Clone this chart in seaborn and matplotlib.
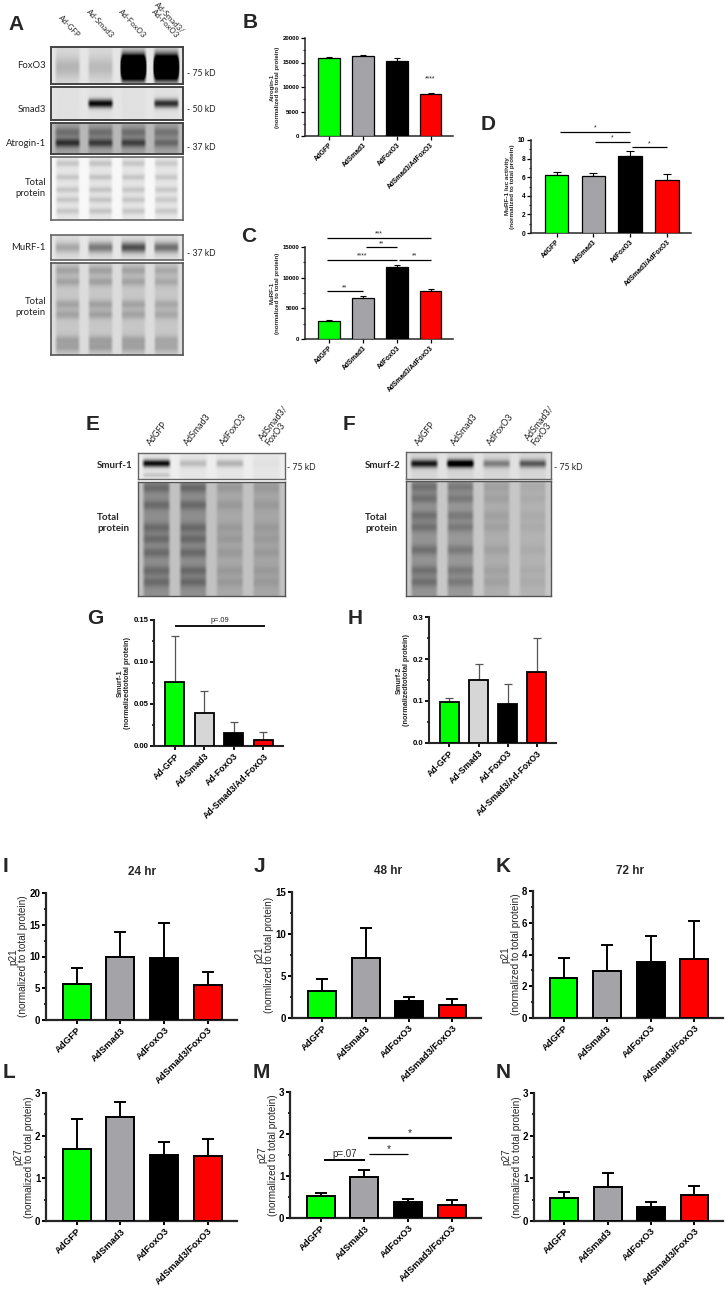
import numpy as np
import pandas as pd
import matplotlib
matplotlib.use("Agg")
import matplotlib.pyplot as plt
import seaborn as sns
from matplotlib.ticker import AutoMinorLocator

sns.set_theme(style="ticks")
plt.rcParams['font.family'] = ['Liberation Sans', 'DejaVu Sans']
BLOT_FONT = ['Lato', 'DejaVu Sans']

W, H = 726, 1289
fig = plt.figure(figsize=(W / 100, H / 100), dpi=100)

# ---------------- data ----------------
groups = ["AdGFP", "AdSmad3", "AdFoxO3", "AdSmad3/AdFoxO3"]
groups_dash = ["Ad-GFP", "Ad-Smad3", "Ad-FoxO3", "Ad-Smad3/Ad-FoxO3"]
groups_short = ["AdGFP", "AdSmad3", "AdFoxO3", "AdSmad3/FoxO3"]

atrogin_mean = [16000, 16400, 15300, 8600]
atrogin_err = [200, 200, 600, 250]
murf_mean = [3000, 6700, 11800, 7900]
murf_err = [150, 300, 300, 200]
murf_luc_mean = [6.2, 6.1, 8.25, 5.75]
murf_luc_err = [0.4, 0.4, 0.55, 0.55]
smurf1_mean = [0.076, 0.039, 0.015, 0.0075]
smurf1_err = [0.055, 0.027, 0.014, 0.0095]
smurf2_mean = [0.097, 0.150, 0.092, 0.169]
smurf2_err = [0.009, 0.037, 0.048, 0.081]
p21_24_mean = [5.6, 9.9, 9.7, 5.5]
p21_24_err = [2.6, 3.9, 5.5, 2.1]
p21_48_mean = [3.2, 7.1, 2.0, 1.6]
p21_48_err = [1.5, 3.6, 0.5, 0.7]
p21_72_mean = [2.5, 2.95, 3.5, 3.7]
p21_72_err = [1.3, 1.65, 1.65, 2.4]
p27_24_mean = [1.68, 2.43, 1.54, 1.52]
p27_24_err = [0.70, 0.36, 0.31, 0.41]
p27_48_mean = [0.52, 0.97, 0.38, 0.32]
p27_48_err = [0.08, 0.18, 0.07, 0.10]
p27_72_mean = [0.54, 0.79, 0.33, 0.61]
p27_72_err = [0.13, 0.33, 0.11, 0.20]

# western blot band intensities per lane (0 = none, >1 saturated)
foxo3_lanes = [0.14, 0.12, 3.0, 2.8]
smad3_lanes = [0.0, 0.85, 0.0, 0.7]
atrogin_upper = [0.2, 0.2, 0.2, 0.18]
atrogin_lower = [0.45, 0.4, 0.38, 0.22]
total_a_lanes = [0.12, 0.13, 0.12, 0.11]
murf1_lanes = [0.2, 0.38, 0.55, 0.42]
total_b_lanes = [0.14, 0.15, 0.14, 0.12]
smurf1_lanes = [0.85, 0.16, 0.2, 0.02]
smurf2_lanes = [0.75, 0.95, 0.35, 0.5]
total_e_shade = [0.12, 0.12, 0.02, 0.03]
total_e_lanes = [0.14, 0.15, 0.06, 0.05]
total_f_shade = [0.12, 0.1, 0.02, 0.0]
total_f_lanes = [0.14, 0.12, 0.05, 0.03]

bar_colors = ["#00ff00", "#a3a3a8", "#000000", "#ff0000"]
bar_colors_light = ["#00ff00", "#d6d6d6", "#000000", "#ff0000"]


def px_axes(l, t, r, b):
    return fig.add_axes([l / W, 1 - b / H, (r - l) / W, (b - t) / H])


def letter(x, y, s):
    fig.text(x / W, 1 - y / H, s, fontsize=15, fontweight="bold",
             ha="center", va="center")


def bars(box, cats, means, errs, colors, ymax, yticks, ylabel, tick_fs,
         label_fs, xlab_fs, lw=1.0, ecol="black", elw=1.0, cap=3,
         label_bold=True, fmt=None, pad=2):
    ax = px_axes(*box)
    df = pd.DataFrame({"group": cats, "value": means})
    sns.barplot(data=df, x="group", y="value", hue="group", palette=colors,
                legend=False, width=0.64, edgecolor="black", linewidth=lw,
                saturation=1, errorbar=None, ax=ax, zorder=3)
    ax.errorbar(range(len(cats)), means, yerr=[np.zeros(len(cats)), errs],
                fmt="none", ecolor=ecol, elinewidth=elw, capsize=cap,
                capthick=elw, zorder=2)
    ax.set_xlim(-0.7, 3.66)
    ax.set_ylim(0, ymax)
    ax.set_yticks(yticks)
    if fmt:
        ax.set_yticklabels([fmt.format(v) for v in yticks])
    ax.yaxis.set_minor_locator(AutoMinorLocator(2))
    ax.set_xlabel("")
    ax.set_ylabel(ylabel, fontsize=label_fs,
                  fontweight="bold" if label_bold else "normal",
                  labelpad=pad, linespacing=1.0)
    sns.despine(ax=ax)
    for sp in ["left", "bottom"]:
        ax.spines[sp].set_linewidth(lw + 0.2)
    ax.tick_params(axis="both", which="major", length=3, width=lw,
                   pad=1, colors="black")
    ax.tick_params(axis="y", which="minor", length=1.5, width=lw)
    for t in ax.get_yticklabels():
        t.set_fontsize(tick_fs)
        t.set_fontweight("bold")
    ax.set_xticks(range(len(cats)))
    ax.set_xticklabels(cats, rotation=45, ha="right", rotation_mode="anchor",
                       fontsize=xlab_fs, fontweight="bold")
    ax.set_facecolor("none")
    return ax


def sig(ax, x1, x2, y, label, lw=1.0, fs=5, dy=0.0, weight="normal"):
    ax.plot([x1, x2], [y, y], color="black", lw=lw, clip_on=False,
            solid_capstyle="butt")
    ax.text((x1 + x2) / 2, y + dy, label, ha="center", va="bottom",
            fontsize=fs, fontweight=weight, clip_on=False)


def blot(box, bands, bg, lane_bg, lane_frac=0.82, edge="#444444", lw=1.0):
    ax = px_axes(*box)
    h, w = 160, 400
    yy = np.linspace(0, 1, h)[:, None]
    xx = np.linspace(0, 1, w)[None, :]
    img = np.full((h, w), float(bg))
    for i in range(4):
        c = (i + 0.5) / 4
        prof = np.clip((lane_frac / 8 - np.abs(xx - c)) * 40, 0, 1)
        img -= (bg - lane_bg) * prof
        for pos, width, lanes in bands:
            img -= lanes[i] * prof * np.exp(-0.5 * ((yy - pos) / width) ** 2)
    ax.imshow(np.clip(img, 0, 1), cmap="gray", vmin=0, vmax=1, aspect="auto",
              extent=(0, 1, 1, 0), interpolation="bilinear")
    ax.set_xticks([])
    ax.set_yticks([])
    for sp in ax.spines.values():
        sp.set_color(edge)
        sp.set_linewidth(lw)
    return ax


def ftext(x, y, s, **kw):
    kw.setdefault("family", BLOT_FONT)
    fig.text(x / W, 1 - y / H, s, **kw)


# ---------------- panel A (blots) ----------------
letter(16, 24, "A")
a_lanes = ["Ad-GFP", "Ad-Smad3", "Ad-FoxO3", "Ad-Smad3/\nAd-FoxO3"]
for i, lab in enumerate(a_lanes):
    lc = 51 + (i + 0.5) * 33
    ftext(lc + 9, 39, lab, rotation=-47, ha="right", va="bottom",
          rotation_mode="anchor", fontsize=5.7, linespacing=0.9,
          color="#222222")

blot((51, 47, 183, 84), [(0.55, 0.2, foxo3_lanes)], 0.9, 0.85, lw=1.4)
blot((51, 87, 183, 120), [(0.5, 0.09, smad3_lanes)], 0.9, 0.88, lw=1.4)
blot((51, 123, 183, 154), [(0.3, 0.11, atrogin_upper),
                          (0.64, 0.1, atrogin_lower)], 0.72, 0.63, lw=1.4)
blot((51, 157, 183, 220), [(p, 0.035, total_a_lanes)
                          for p in (0.1, 0.32, 0.52, 0.68, 0.86)],
     0.97, 0.9, lane_frac=0.78, edge="#666666", lw=1.2)
blot((51, 235, 183, 260), [(0.5, 0.15, murf1_lanes)], 0.9, 0.86,
     edge="#666666", lw=1.2)
blot((51, 263, 183, 355), [(p, 0.035, total_b_lanes)
                          for p in (0.08, 0.2, 0.45, 0.56, 0.84, 0.92)],
     0.86, 0.78, lane_frac=0.8, edge="#555555", lw=1.2)

for y, s in [(65, "FoxO3"), (109, "Smad3"), (143, "Atrogin-1"),
             (188, "Total\nprotein"), (248, "MuRF-1"), (307, "Total\nprotein")]:
    ftext(46, y, s, ha="right", va="center", fontsize=6.8, linespacing=1.3,
          color="#222222")
for y, kd in [(73, "- 75 kD"), (109, "- 50 kD"), (147, "- 37 kD"),
              (253, "- 37 kD")]:
    ftext(187, y, kd, ha="left", va="center", fontsize=6.2, color="#222222")

# ---------------- panel B ----------------
letter(250, 22, "B")
axB = bars((305, 38, 453, 136), groups, atrogin_mean, atrogin_err, bar_colors,
           20000, [0, 5000, 10000, 15000, 20000],
           "Atrogin-1\n(normalized to total protein)", 4.3, 4.4, 4.8,
           lw=0.9, cap=2.5, elw=0.8)
axB.text(3, 11000, "****", ha="center", va="bottom", fontsize=5)

# ---------------- panel C ----------------
letter(249, 237, "C")
axC = bars((305, 247, 453, 339), groups, murf_mean, murf_err, bar_colors,
           15000, [0, 5000, 10000, 15000],
           "MuRF-1\n(normalized to total protein)", 4.3, 4.4, 4.8,
           lw=0.9, cap=2.5, elw=0.8)
sig(axC, -0.05, 3.0, 16500, "***", lw=0.9, fs=5)
sig(axC, 1.1, 2.0, 15000, "**", lw=0.9, fs=5)
sig(axC, -0.05, 2.0, 12900, "****", lw=0.9, fs=5)
sig(axC, 2.07, 3.0, 12900, "**", lw=0.9, fs=5)
sig(axC, -0.05, 1.0, 7800, "**", lw=0.9, fs=5)

# ---------------- panel D ----------------
letter(488, 125, "D")
axD = bars((531, 140, 691, 233), groups, murf_luc_mean, murf_luc_err,
           bar_colors, 10, [0, 2, 4, 6, 8, 10],
           "MuRF-1 luc activity\n(normalized to total protein)", 4.8, 4.6,
           4.8, lw=0.9, cap=3.2, elw=0.8)
sig(axD, 0.1, 2.0, 10.9, "*", lw=0.9, fs=5)
sig(axD, 1.05, 2.0, 9.8, "*", lw=0.9, fs=5)
sig(axD, 2.05, 3.0, 9.25, "*", lw=0.9, fs=5)

# ---------------- panels E and F (blots) ----------------
letter(93, 425, "E")
letter(349, 425, "F")
ef_lanes = ["AdGFP", "AdSmad3", "AdFoxO3", "AdSmad3/\nFoxO3"]
for left, right in [(138, 285), (406, 551)]:
    lw_ = (right - left) / 4
    for i, lab in enumerate(ef_lanes):
        lc = left + (i + 0.5) * lw_
        ftext(lc - 4 + (8 if i == 3 else 0), 447, lab, rotation=52,
              ha="left", va="bottom", rotation_mode="anchor", fontsize=6.4,
              linespacing=0.95, color="#222222")

blot((138, 453, 285, 479), [(0.4, 0.1, smurf1_lanes),
                           (0.85, 0.06, [0.12, 0.0, 0.0, 0.0])],
     0.93, 0.9, edge="#666666")
blot((138, 482, 285, 596), [(0.5, 10, total_e_shade)] +
     [(p, 0.03, total_e_lanes)
      for p in (0.05, 0.2, 0.4, 0.5, 0.62, 0.78, 0.88)],
     0.76, 0.68, lane_frac=0.8, edge="#555555")
blot((406, 452, 551, 479), [(0.45, 0.1, smurf2_lanes)], 0.88, 0.84,
     edge="#666666")
blot((406, 481, 551, 596), [(0.5, 10, total_f_shade)] +
     [(p, 0.03, total_f_lanes)
      for p in (0.05, 0.15, 0.3, 0.4, 0.6, 0.78, 0.88)],
     0.78, 0.7, lane_frac=0.8, edge="#555555")

for x, y, s in [(97, 466, "Smurf-1"), (97, 523, "Total\nprotein"),
                (365, 466, "Smurf-2"), (365, 523, "Total\nprotein")]:
    ftext(x, y, s, ha="left", va="center", fontsize=7, fontweight="bold",
          linespacing=1.3)
ftext(287, 468, "- 75 kD", ha="left", va="center", fontsize=6.2,
      color="#222222")
ftext(554, 468, "- 75 kD", ha="left", va="center", fontsize=6.2,
      color="#222222")

# ---------------- panel G ----------------
letter(95, 618, "G")
axG = bars((154, 620, 283, 746), groups_dash, smurf1_mean, smurf1_err,
           bar_colors_light, 0.15, [0, 0.05, 0.10, 0.15],
           "Smurf-1\n(normalizedtototal protein)", 5.6, 5.2, 6.3,
           lw=1.3, ecol="#555555", elw=0.9, cap=2.6, fmt="{:.2f}")
sig(axG, 0.02, 3.05, 0.143, "p=.09", lw=1.3, fs=5.3, dy=0.002)

# ---------------- panel H ----------------
letter(355, 618, "H")
axH = bars((429, 617, 556, 743), groups_dash, smurf2_mean, smurf2_err,
           bar_colors_light, 0.3, [0, 0.1, 0.2, 0.3],
           "Smurf-2\n(normalizedtototal protein)", 5.6, 5.2, 6.3,
           lw=1.3, ecol="#555555", elw=0.9, cap=2.6, fmt="{:.1f}")

# ---------------- panels I, J, K (p21) ----------------
row1 = [
    ((46, 893, 237, 1020), "I", (6, 866), "24 hr", (142, 872), p21_24_mean,
     p21_24_err, 20, [0, 5, 10, 15, 20], "p21\n(normalized to total protein)"),
    ((292, 892, 481, 1018), "J", (259, 867), "48 hr", (388, 871), p21_48_mean,
     p21_48_err, 15, [0, 5, 10, 15], "p21\n(normlized to total protein)"),
    ((533, 891, 723, 1018), "K", (503, 866), "72 hr", (630, 871), p21_72_mean,
     p21_72_err, 8, [0, 2, 4, 6, 8], "p21\n(normalized to total protein)"),
]
for box, let, lpos, title, tpos, m, e, ymax, yt, yl in row1:
    letter(lpos[0], lpos[1], let)
    fig.text(tpos[0] / W, 1 - tpos[1] / H, title, fontsize=8.5,
             fontweight="bold", ha="center", va="center")
    bars(box, groups_short, m, e, bar_colors, ymax, yt, yl, 7, 7.2, 6.8,
         lw=1.4, elw=1.4, cap=4.2, label_bold=False, pad=1)

# ---------------- panels L, M, N (p27) ----------------
row2 = [
    ((46, 1093, 237, 1221), "L", (9, 1072), p27_24_mean, p27_24_err),
    ((290, 1092, 481, 1218), "M", (261, 1073), p27_48_mean, p27_48_err),
    ((534, 1093, 723, 1221), "N", (503, 1073), p27_72_mean, p27_72_err),
]
p27_axes = []
for box, let, lpos, m, e in row2:
    letter(lpos[0], lpos[1], let)
    p27_axes.append(bars(box, groups_short, m, e, bar_colors, 3, [0, 1, 2, 3],
                         "p27\n(normalized to total protein)", 7, 7.2, 6.8,
                         lw=1.4, elw=1.4, cap=4.2, label_bold=False, pad=1))
axM = p27_axes[1]
sig(axM, 0.07, 1.02, 1.37, "p=.07", lw=1.4, fs=7, dy=0.03)
sig(axM, 1.1, 2.0, 1.53, "*", lw=0.9, fs=7.5)
sig(axM, 1.07, 3.0, 1.91, "*", lw=1.6, fs=7.5)

fig.savefig("out.png", dpi=100)
